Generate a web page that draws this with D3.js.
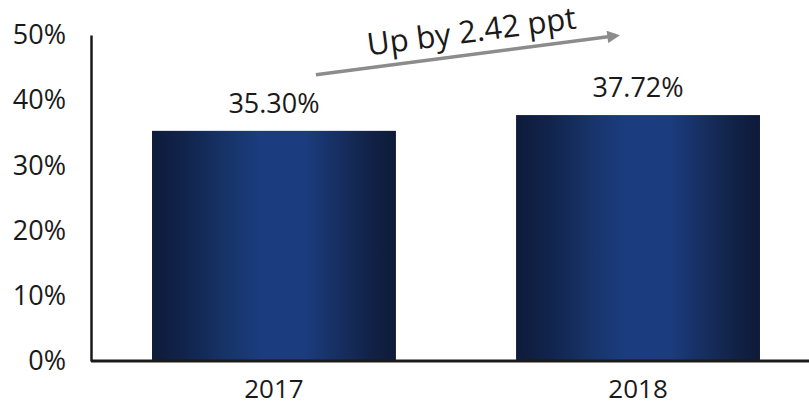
<!DOCTYPE html>
<html>
<head>
<meta charset="utf-8">
<script src="https://cdn.jsdelivr.net/npm/d3@7"></script>
<style>
  html, body { margin: 0; padding: 0; background: #fff; }
  svg { display: block; }
  text { font-family: "Open Sans", "Noto Sans", sans-serif; fill: #1a1a1a; }
</style>
</head>
<body>
<svg id="chart" width="809" height="406"></svg>
<script>
// Share of total by year
const years = ["2017", "2018"];
const shares = [35.30, 37.72];
const yTicks = [0, 10, 20, 30, 40, 50];
const changeLabel = "Up by 2.42 ppt";

const svg = d3.select("#chart");
const W = 809, H = 406;
const margin = { left: 91, top: 35, bottom: 45 };

const x = d3.scaleBand()
  .domain(years)
  .range([margin.left, 821])
  .paddingInner(0.33)
  .paddingOuter(0.1676);

const y = d3.scaleLinear()
  .domain([0, 50])
  .range([H - margin.bottom, margin.top]);

// Horizontal shading across each bar
const defs = svg.append("defs");
const grad = defs.append("linearGradient")
  .attr("id", "barShade")
  .attr("x1", "0%").attr("x2", "100%").attr("y1", "0%").attr("y2", "0%");
[
  [0, "#0e1b3a"], [0.14, "#11244c"], [0.3, "#173368"], [0.45, "#1b3d7f"],
  [0.62, "#1b3d80"], [0.76, "#172f62"], [0.9, "#112246"], [1, "#0e1a39"]
].forEach(([o, c]) => grad.append("stop").attr("offset", o).attr("stop-color", c));

// Bars
svg.append("g").selectAll("rect")
  .data(years)
  .join("rect")
  .attr("x", d => x(d))
  .attr("width", x.bandwidth())
  .attr("y", (d, i) => y(shares[i]))
  .attr("height", (d, i) => y(0) - y(shares[i]))
  .attr("fill", "url(#barShade)");

// Value labels
svg.append("g").selectAll("text")
  .data(years)
  .join("text")
  .attr("x", d => x(d) + x.bandwidth() / 2)
  .attr("y", (d, i) => y(shares[i]) - 18)
  .attr("text-anchor", "middle")
  .attr("font-size", 27)
  .text((d, i) => shares[i].toFixed(2) + "%");

// Y axis
const yAxis = d3.axisLeft(y)
  .tickValues(yTicks)
  .tickSize(0)
  .tickPadding(25)
  .tickFormat(d => d + "%");
const gy = svg.append("g")
  .attr("transform", `translate(${margin.left},0)`)
  .call(yAxis);
gy.select(".domain").attr("stroke", "#1a1a1a").attr("stroke-width", 2.5);
gy.selectAll("text").attr("font-size", 27).attr("font-family", '"Open Sans", sans-serif').attr("fill", "#1a1a1a");

// X axis
const xAxis = d3.axisBottom(x).tickSize(0).tickPadding(19);
const gx = svg.append("g")
  .attr("transform", `translate(0,${y(0)})`)
  .call(xAxis);
gx.select(".domain").attr("stroke", "#1a1a1a").attr("stroke-width", 3)
  .attr("d", `M${margin.left},0H${W}`);
gx.selectAll("text").attr("font-size", 26).attr("font-family", '"Open Sans", sans-serif').attr("fill", "#1a1a1a");

// Change arrow between the two years
const ax0 = x(years[0]) + x.bandwidth() * 0.672, ay0 = y(shares[0]) - 56;
const ax1 = x(years[1]) + x.bandwidth() * 0.434, ay1 = y(shares[1]) - 80;
defs.append("marker")
  .attr("id", "arrowHead")
  .attr("viewBox", "0 0 10 10")
  .attr("refX", 2).attr("refY", 5)
  .attr("markerWidth", 4.2).attr("markerHeight", 3.6)
  .attr("orient", "auto")
  .append("path")
  .attr("d", "M0,0L10,5L0,10Z")
  .attr("fill", "#8c8c8c");
svg.append("line")
  .attr("x1", ax0).attr("y1", ay0)
  .attr("x2", ax1 - 12).attr("y2", ay1 + 1.5)
  .attr("stroke", "#8c8c8c")
  .attr("stroke-width", 3.5)
  .attr("marker-end", "url(#arrowHead)");

const angle = Math.atan2(ay1 - ay0, ax1 - ax0) * 180 / Math.PI;
const mx = (ax0 + ax1) / 2 + 4, my = (ay0 + ay1) / 2 - 13;
svg.append("text")
  .attr("transform", `translate(${mx},${my}) rotate(${angle})`)
  .attr("text-anchor", "middle")
  .attr("font-size", 31)
  .text(changeLabel);
</script>
</body>
</html>
